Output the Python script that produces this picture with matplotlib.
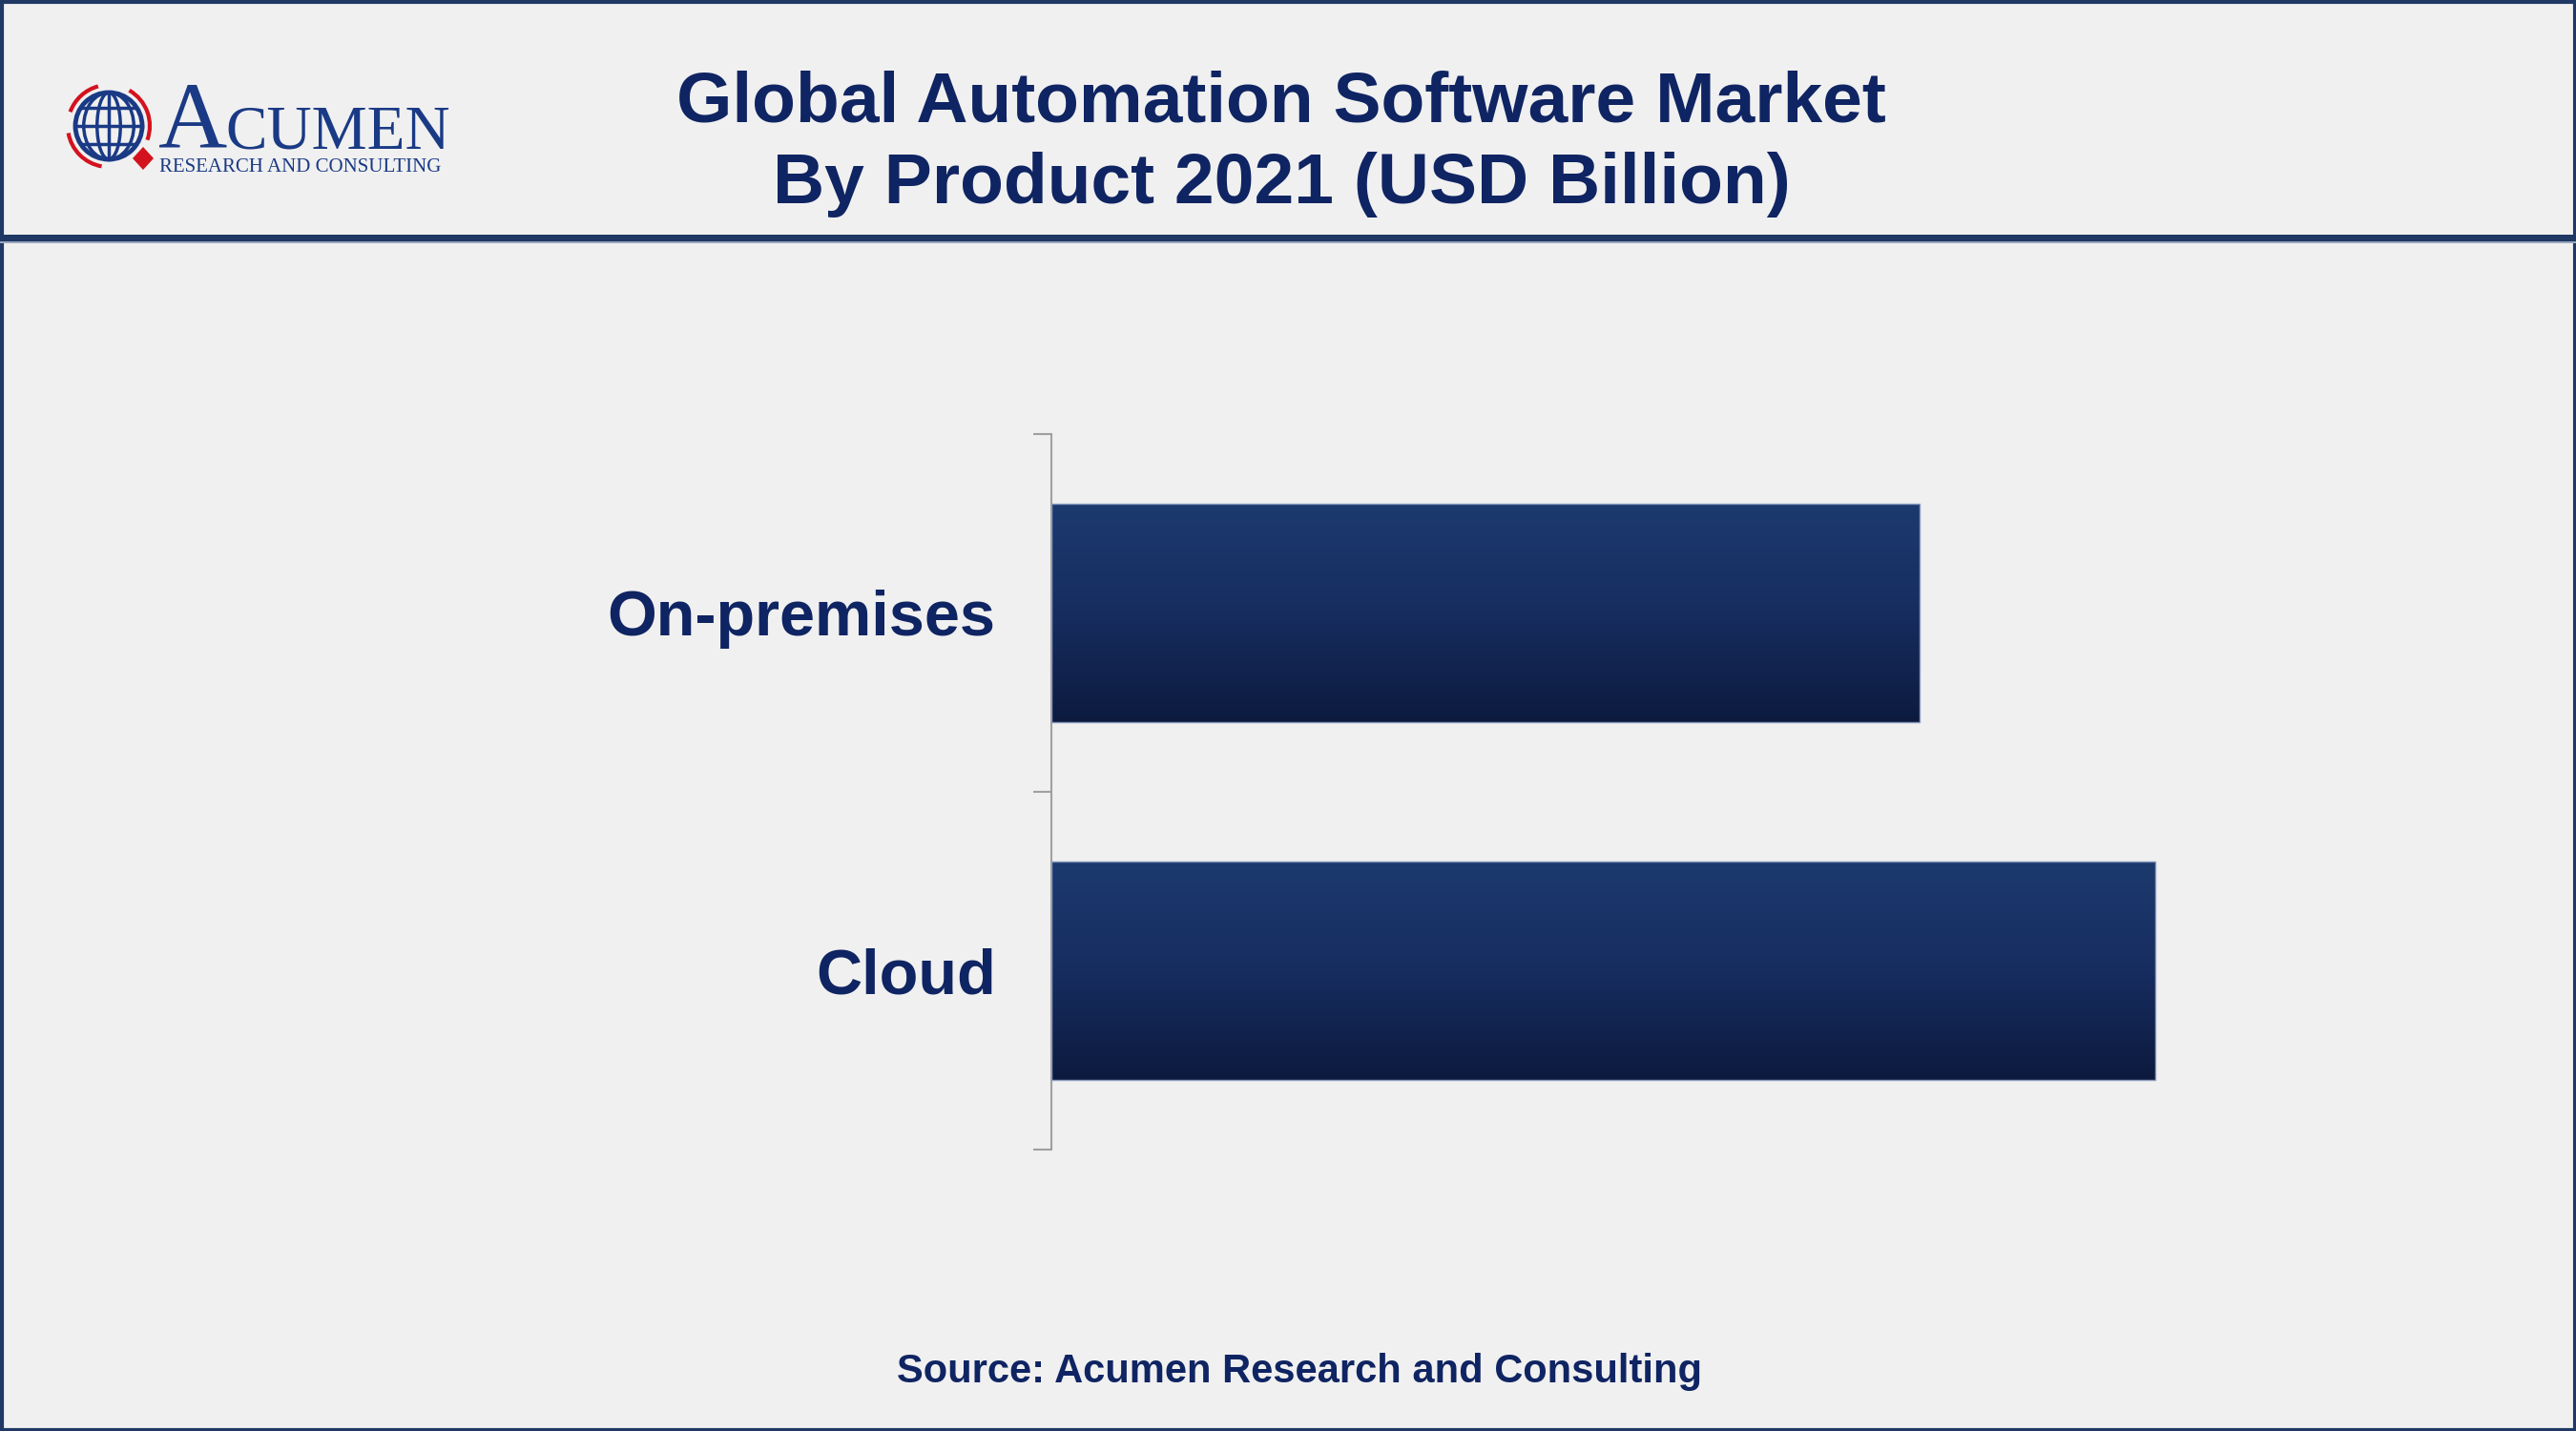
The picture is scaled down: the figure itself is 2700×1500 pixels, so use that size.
import numpy as np
import matplotlib
matplotlib.use("Agg")
import matplotlib.pyplot as plt
from matplotlib.patches import Rectangle, Circle, Ellipse, Arc, Polygon
from matplotlib.colors import LinearSegmentedColormap

# ---------------- data ----------------
categories = ["Cloud", "On-premises"]
values = [3.71, 2.92]
title_lines = ["Global Automation Software Market", "By Product 2021 (USD Billion)"]
source_text = "Source: Acumen Research and Consulting"

BG = "#F0F0F0"
NAVY = "#0F2462"
BAND = "#1F3864"

W, H = 2700, 1500
fig = plt.figure(figsize=(27, 15), dpi=100, facecolor=BG)

# overlay axes in pixel coordinates
ov = fig.add_axes([0, 0, 1, 1], zorder=0)
ov.set_xlim(0, W)
ov.set_ylim(H, 0)
ov.axis("off")
ov.set_facecolor(BG)

# border and header band
ov.add_patch(Rectangle((1.5, 1.5), W - 3, H - 3, fill=False, ec=BAND, lw=3))
ov.add_patch(Rectangle((0, 246), W, 7, fc=BAND, ec="none"))
ov.add_patch(Rectangle((0, 253), W, 1.5, fc="#9AA6BE", ec="none"))

# title
ov.text(1343, 108, title_lines[0], ha="center", va="center", fontsize=54,
        fontweight="bold", color=NAVY, family="Liberation Sans")
ov.text(1343, 194, title_lines[1], ha="center", va="center", fontsize=54,
        fontweight="bold", color=NAVY, family="Liberation Sans")

# source
ov.text(1362, 1438, source_text, ha="center", va="center", fontsize=30,
        fontweight="bold", color=NAVY, family="Liberation Sans")

# logo
LOGO_BLUE = "#1A3A85"
LOGO_RED = "#D4121E"
cx, cy, r = 114, 132, 35
ov.add_patch(Circle((cx, cy), r, fill=False, ec=LOGO_BLUE, lw=3.5))
for w in [0.35, 0.75]:
    ov.add_patch(Ellipse((cx, cy), 2 * r * w, 2 * r, fill=False, ec=LOGO_BLUE, lw=2.5))
ov.plot([cx, cx], [cy - r, cy + r], color=LOGO_BLUE, lw=2.5)
for dy in [-0.55, 0, 0.55]:
    hw = r * np.sqrt(1 - dy ** 2)
    ov.plot([cx - hw, cx + hw], [cy + dy * r, cy + dy * r], color=LOGO_BLUE, lw=2.5)
for t1, t2 in [(100, 170), (200, 255), (300, 20)]:
    ov.add_patch(Arc((cx, cy), 2 * r + 16, 2 * r + 16, theta1=t1, theta2=t2,
                     ec=LOGO_RED, lw=3))
ov.add_patch(Polygon([(150, 154), (161, 166), (150, 178), (139, 166)],
                     closed=True, fc=LOGO_RED, ec="none"))
ov.text(166, 155, "A", ha="left", va="baseline", fontsize=72,
        color=LOGO_BLUE, family="Liberation Serif")
ov.text(236, 155, "CUMEN", ha="left", va="baseline", fontsize=47,
        color=LOGO_BLUE, family="Liberation Serif")
ov.text(167, 180, "RESEARCH AND CONSULTING", ha="left", va="baseline", fontsize=15,
        color=LOGO_BLUE, family="Liberation Serif")

# ---------------- chart ----------------
ax = fig.add_axes([1102 / W, 295 / H, 1388 / W, 750 / H], zorder=2)
ax.set_facecolor("none")
y = np.arange(len(categories))
bars = ax.barh(y, values, height=0.61, color="#16295A", edgecolor="#8A9AC0", linewidth=1)

grad = np.linspace(0, 1, 256).reshape(-1, 1)
cmap = LinearSegmentedColormap.from_list("g", ["#1C3A6E", "#172D60", "#0C1A3E"])
for b in bars:
    x0, y0 = b.get_x(), b.get_y()
    w_, h_ = b.get_width(), b.get_height()
    im = ax.imshow(grad, cmap=cmap, aspect="auto", origin="lower",
                   extent=[x0, x0 + w_, y0 + h_, y0], zorder=2.5,
                   interpolation="bilinear")
    im.set_clip_path(b)
    b.set_zorder(3)
    b.set_facecolor("none")

ax.set_xlim(0, max(values) * 1.2)
ax.set_ylim(-0.5, 1.5)
for s in ["top", "right", "bottom"]:
    ax.spines[s].set_visible(False)
ax.spines["left"].set_color("#A0A0A0")
ax.spines["left"].set_linewidth(1.5)
ax.set_xticks([])
ax.set_yticks(y)
ax.set_yticklabels(categories, fontsize=48, fontweight="bold", color=NAVY,
                   family="Liberation Sans")
ax.tick_params(axis="y", which="major", length=0, pad=42)
ax.set_yticks([-0.5, 0.5, 1.5], minor=True)
ax.tick_params(axis="y", which="minor", length=14, width=1.5, color="#A0A0A0")

fig.savefig("out.png", dpi=100, facecolor=BG)
